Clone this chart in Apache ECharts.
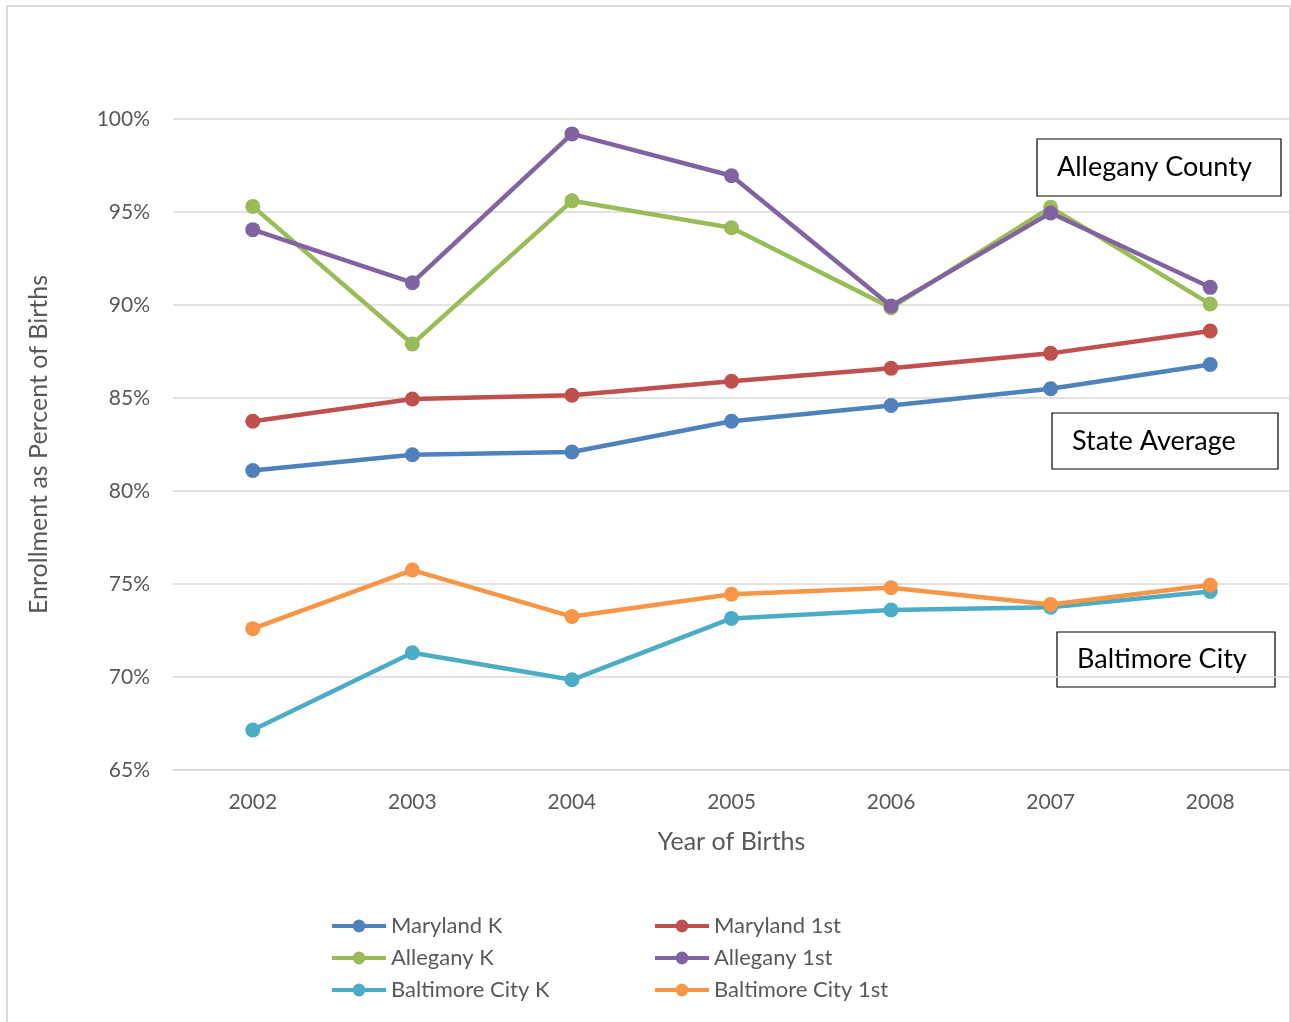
<!DOCTYPE html>
<html>
<head>
<meta charset="utf-8">
<script src="https://cdn.jsdelivr.net/npm/echarts@6/dist/echarts.min.js"></script>
<style>
html,body{margin:0;padding:0;background:#fff;}
#c{width:1291px;height:1022px;}
</style>
</head>
<body>
<div id="c"></div>
<script>
const years = ['2002','2003','2004','2005','2006','2007','2008'];
const marylandK = [81.1, 81.95, 82.1, 83.75, 84.6, 85.5, 86.8];
const maryland1st = [83.75, 84.95, 85.15, 85.9, 86.6, 87.4, 88.6];
const allegK = [95.3, 87.9, 95.6, 94.15, 89.85, 95.25, 90.05];
const alleg1st = [94.05, 91.2, 99.2, 96.95, 89.95, 94.95, 90.95];
const baltK = [67.15, 71.3, 69.85, 73.15, 73.6, 73.75, 74.6];
const balt1st = [72.6, 75.75, 73.25, 74.45, 74.8, 73.9, 74.95];
const yTicks = {min: 65, max: 100, interval: 5};
const seriesNames = ['Maryland K','Maryland 1st','Allegany K','Allegany 1st','Baltimore City K','Baltimore City 1st'];
const seriesData = [marylandK, maryland1st, allegK, alleg1st, baltK, balt1st];
const colors = ['#4f81bd','#c0504d','#9bbb59','#8064a2','#4bacc6','#f79646'];
const annotations = [
  {text:'Allegany County', x:1037, y:139, w:244, h:57},
  {text:'State Average', x:1052, y:413, w:226, h:56},
  {text:'Baltimore City', x:1057, y:632, w:218, h:55}
];
const FONT = 'Lato, "Open Sans", sans-serif';
const chart = echarts.init(document.getElementById('c'), null, {renderer:'canvas'});
const legendBase = {
  orient:'vertical', top:910, itemWidth:54, itemHeight:16, itemGap:10,
  lineStyle:{width:4},
  textStyle:{fontFamily:FONT, fontSize:22, color:'#595959'}
};
chart.setOption({
  animation:false,
  backgroundColor:'#fff',
  color: colors,
  grid:{left:173, right:1, top:119, bottom:252, containLabel:false},
  legend:[
    Object.assign({}, legendBase, {left:325, data:['Maryland K','Allegany K','Baltimore City K']}),
    Object.assign({}, legendBase, {left:648, data:['Maryland 1st','Allegany 1st','Baltimore City 1st']})
  ],
  xAxis:{
    type:'category', data:years, boundaryGap:true,
    name:'Year of Births', nameLocation:'middle', nameGap:59,
    nameTextStyle:{fontFamily:FONT, fontSize:25, color:'#595959'},
    axisLine:{show:true, lineStyle:{color:'#d9d9d9', width:1.5}},
    axisTick:{show:false},
    axisLabel:{fontFamily:FONT, fontSize:21, color:'#595959', margin:22}
  },
  yAxis:{
    type:'value', min:yTicks.min, max:yTicks.max, interval:yTicks.interval,
    name:'Enrollment as Percent of Births', nameLocation:'middle', nameGap:122,
    nameTextStyle:{fontFamily:FONT, fontSize:25, color:'#595959'},
    axisLine:{show:false}, axisTick:{show:false},
    splitLine:{lineStyle:{color:'#d9d9d9', width:1.5}},
    axisLabel:{fontFamily:FONT, fontSize:21, color:'#595959', margin:23, formatter:'{value}%'}
  },
  series: seriesNames.map((n,i)=>({
    name:n, type:'line', data:seriesData[i],
    symbol:'circle', symbolSize:15,
    lineStyle:{width:4.5, color:colors[i]},
    itemStyle:{color:colors[i]},
    emphasis:{disabled:true}
  })),
  graphic:[
    {type:'rect', shape:{x:7, y:6, width:1283, height:1020}, style:{fill:'none', stroke:'#d9d9d9', lineWidth:2}, silent:true, z:100},
    ...annotations.map(a=>({
      type:'group', z:100,
      children:[
        {type:'rect', shape:{x:a.x, y:a.y, width:a.w, height:a.h}, style:{fill:'#fff', stroke:'#000', lineWidth:1.2}},
        {type:'text', x:a.x + 20, y:a.y + a.h/2, style:{text:a.text, fill:'#000', font:'27px '+FONT, align:'left', verticalAlign:'middle'}}
      ]
    }))
  ]
});
</script>
</body>
</html>
